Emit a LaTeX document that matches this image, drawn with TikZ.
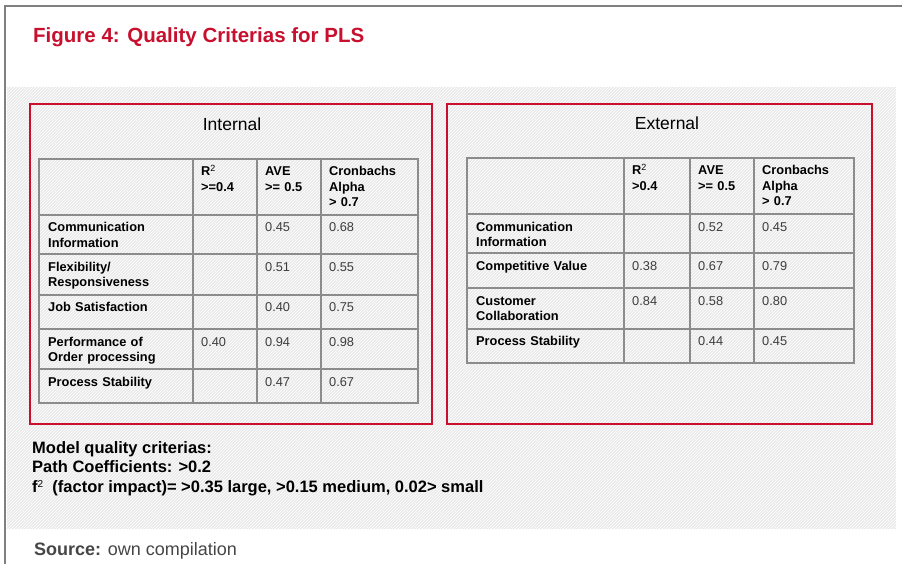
\documentclass[tikz,border=0pt]{standalone}
\usepackage{fontspec}
\setmainfont{Liberation Sans}
\usetikzlibrary{patterns}
\definecolor{figred}{RGB}{200,16,46}
\definecolor{framegray}{RGB}{128,128,128}
\definecolor{gridgray}{RGB}{140,140,140}
\definecolor{bggray}{RGB}{234,234,234}
\definecolor{valgray}{RGB}{60,60,60}
\definecolor{srcgray}{RGB}{70,70,70}
\tikzset{
  redbox/.style={draw=figred, line width=2.8pt},
  grid/.style={draw=gridgray, line width=1.3pt},
  celltxt/.style={anchor=base west, inner sep=0pt, text width=150pt, align=left,
    font=\fontsize{12.8}{15.5}\selectfont},
  lbl/.style={celltxt, font=\fontsize{12.8}{15.5}\selectfont\bfseries, text=black},
  val/.style={celltxt, text=valgray},
  boxtitle/.style={anchor=base, inner sep=0pt, font=\fontsize{17.5}{20}\selectfont},
  notetxt/.style={anchor=base west, inner sep=0pt, font=\fontsize{16.5}{19.5}\selectfont\bfseries},
}
\begin{document}
\begin{tikzpicture}[x=1pt,y=-1pt]
\useasboundingbox (0,0) rectangle (902,564);
\fill[white] (0,0) rectangle (902,564);
% hatched background
\fill[bggray] (7,87) rectangle (896,529);
\fill[pattern=north east lines, pattern color=white] (7,87) rectangle (896,529);
% outer frame
\draw[framegray, line width=2pt] (5,564) -- (5,6) -- (902,6);
% title
\node[anchor=base west, inner sep=0pt, text=figred, font=\fontsize{20.5}{24}\selectfont\bfseries] (title) at (33,43) {Figure 4: Quality Criterias for PLS};
% red boxes
\draw[redbox] (30,104) rectangle (432,424);
\draw[redbox] (447,104) rectangle (872,424);
\node[boxtitle] (tint) at (232,131) {Internal};
\node[boxtitle] (text) at (667,130) {External};
% ---------- internal table ----------
\draw[grid] (39,159) rectangle (418,403);
\foreach \yy in {215,254,295,329,369} \draw[grid] (39,\yy) -- (418,\yy);
\foreach \xx in {193,257,321} \draw[grid] (\xx,159) -- (\xx,403);
\node[lbl] (ih1) at (201,176) {R\textsuperscript{\mdseries 2}\\>=0.4};
\node[lbl] (ih2) at (265,176) {AVE\\>= 0.5};
\node[lbl] (ih3) at (329,176) {Cronbachs\\Alpha\\> 0.7};
\node[lbl] (ir1) at (48,232) {Communication\\Information};
\node[lbl] (ir2) at (48,271) {Flexibility/\\Responsiveness};
\node[lbl] (ir3) at (48,311) {Job Satisfaction};
\node[lbl] (ir4) at (48,346) {Performance of\\Order processing};
\node[lbl] (ir5) at (48,386) {Process Stability};
\node[val] (iv12) at (265,232) {0.45};
\node[val] (iv13) at (329,232) {0.68};
\node[val] (iv22) at (265,271) {0.51};
\node[val] (iv23) at (329,271) {0.55};
\node[val] (iv32) at (265,311) {0.40};
\node[val] (iv33) at (329,311) {0.75};
\node[val] (iv41) at (201,346) {0.40};
\node[val] (iv42) at (265,346) {0.94};
\node[val] (iv43) at (329,346) {0.98};
\node[val] (iv52) at (265,386) {0.47};
\node[val] (iv53) at (329,386) {0.67};
% ---------- external table ----------
\draw[grid] (467,158) rectangle (854,363);
\foreach \yy in {214,253,288,329} \draw[grid] (467,\yy) -- (854,\yy);
\foreach \xx in {624,690,754} \draw[grid] (\xx,158) -- (\xx,363);
\node[lbl] (eh1) at (632,175) {R\textsuperscript{\mdseries 2}\\>0.4};
\node[lbl] (eh2) at (698,175) {AVE\\>= 0.5};
\node[lbl] (eh3) at (762,175) {Cronbachs\\Alpha\\> 0.7};
\node[lbl] (er1) at (476,231) {Communication\\Information};
\node[lbl] (er2) at (476,270) {Competitive Value};
\node[lbl] (er3) at (476,305) {Customer\\Collaboration};
\node[lbl] (er4) at (476,345) {Process Stability};
\node[val] (ev12) at (698,231) {0.52};
\node[val] (ev13) at (762,231) {0.45};
\node[val] (ev21) at (632,270) {0.38};
\node[val] (ev22) at (698,270) {0.67};
\node[val] (ev23) at (762,270) {0.79};
\node[val] (ev31) at (632,305) {0.84};
\node[val] (ev32) at (698,305) {0.58};
\node[val] (ev33) at (762,305) {0.80};
\node[val] (ev42) at (698,345) {0.44};
\node[val] (ev43) at (762,345) {0.45};
% ---------- notes ----------
\node[notetxt] (n1) at (32,453) {Model quality criterias:};
\node[notetxt] (n2) at (32,472) {Path Coefficients: >0.2};
\node[notetxt] (n3) at (32,492) {f{\fontsize{10}{10}\selectfont\mdseries\raisebox{4.5pt}{2}}\ \ (factor impact)= >0.35 large, >0.15 medium, 0.02> small};
\node[anchor=base west, inner sep=0pt, text=srcgray, font=\fontsize{18}{21}\selectfont] (src) at (34,555) {\textbf{Source:} own compilation};
\end{tikzpicture}
\end{document}
